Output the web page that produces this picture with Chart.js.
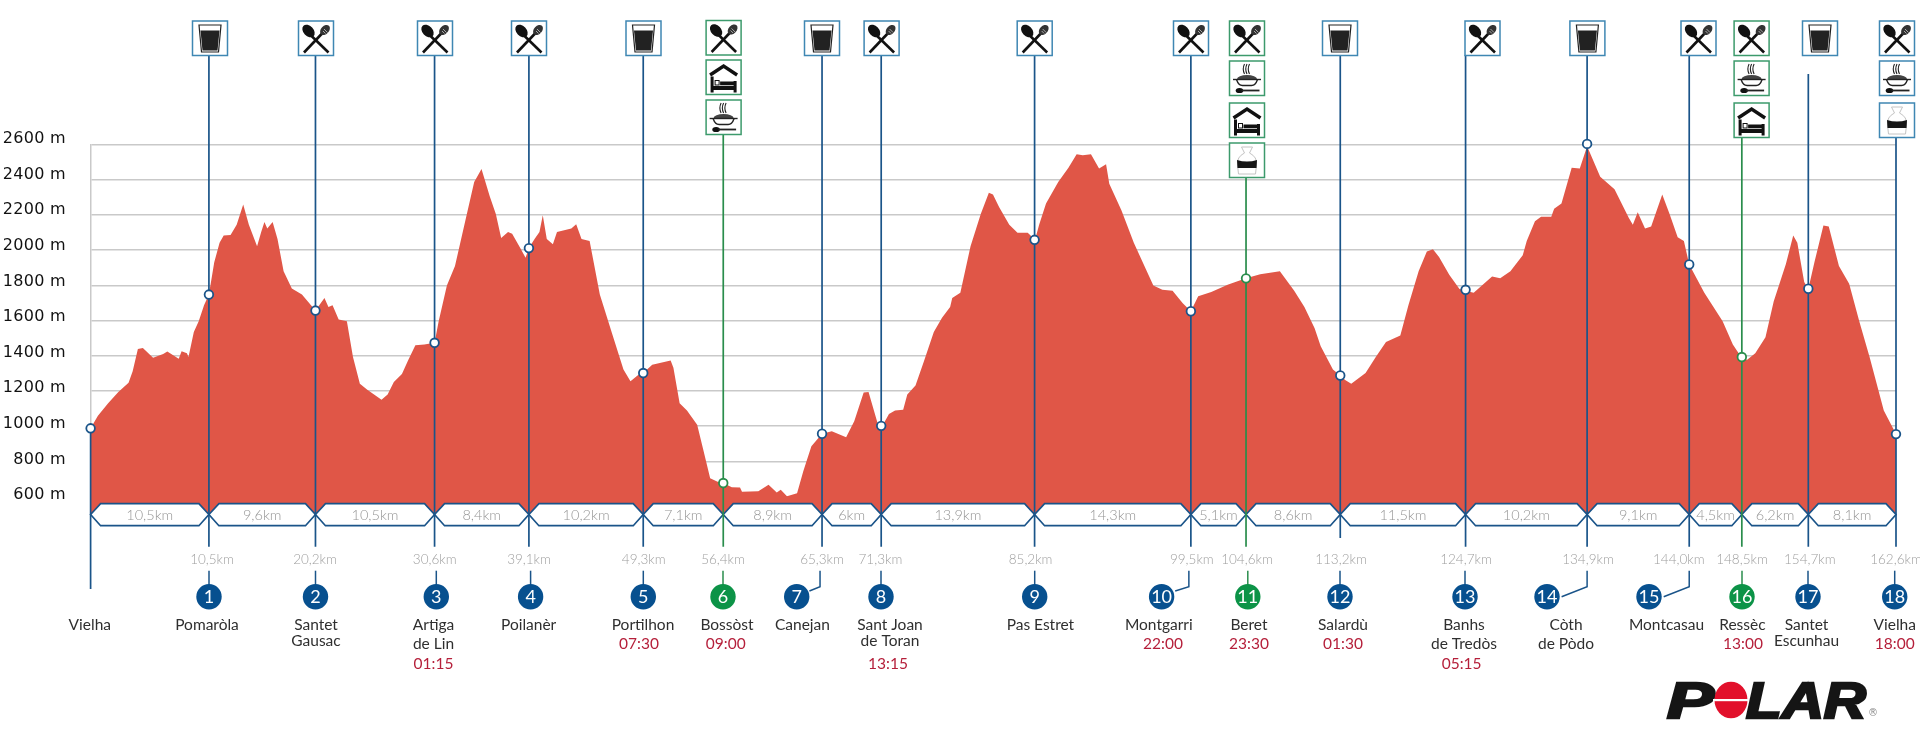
<!DOCTYPE html>
<html>
<head>
<meta charset="utf-8">
<title>Perfil</title>
<script src="https://cdn.jsdelivr.net/npm/chart.js@4"></script>
<style>
    html, body { margin: 0; padding: 0; background: #fff; }
    canvas { display: block; }
</style>
</head>
<body>
<canvas id="profileChart" width="1920" height="753"></canvas>
<script>
// Elevation profile (x = distance along the drawn axis)
const profileKm = [
    0, 0.66, 1.58, 2.5, 3.42, 3.79, 4.26, 4.71, 5.63, 6.54, 6.91, 7.94, 8.2, 8.68, 8.82, 9.3, 9.74, 10.22, 10.66,
    11.14, 11.62, 11.99, 12.61, 13.16, 13.75, 14.26, 15, 15.37, 15.66, 15.92, 16.4, 16.84, 17.39, 18.13, 19.04,
    20.26, 21.07, 21.43, 21.8, 22.35, 23.09, 23.64, 24.26, 24.93, 26.21, 26.76, 27.32, 28.05, 28.6, 29.26, 30.07,
    30.99, 31.36, 32.1, 32.83, 33.75, 34.56, 35.22, 35.96, 36.51, 36.99, 37.61, 37.98, 38.71, 39.19, 39.49, 40,
    40.44, 40.74, 41.1, 41.65, 42.02, 43.31, 43.75, 44.23, 44.96, 45.88, 46.99, 48.01, 48.64, 49.5, 49.79, 50.6,
    52.26, 52.51, 53.07, 53.73, 54.65, 55.2, 55.82, 56.49, 57, 57.77, 58.51, 58.69, 60.16, 61.08, 61.82, 62.18,
    62.74, 63.65, 64.21, 64.94, 65.9, 66.78, 68.07, 68.8, 69.65, 70.09, 70.9, 71.34, 71.93, 72.48, 73.21, 73.58,
    74.32, 75.05, 75.97, 76.71, 77.44, 77.63, 78.36, 79.28, 80.2, 80.93, 81.3, 81.85, 82.77, 83.51, 84.43, 85.09,
    85.46, 86.08, 87.18, 88.1, 88.84, 89.39, 90.13, 90.86, 91.49, 91.78, 92.88, 93.99, 95.09, 95.75, 96.56, 97.48,
    98.4, 99.13, 99.79, 100.97, 102.44, 104.1, 105.38, 107.15, 108.44, 109.36, 110.28, 110.83, 111.93, 112.59,
    113.03, 113.58, 114.87, 115.79, 116.71, 118, 118.73, 119.65, 120.39, 120.94, 121.49, 122.41, 123.33, 123.88,
    124.61, 125.35, 126.27, 127, 127.92, 129.03, 129.39, 130.13, 130.68, 131.6, 131.86, 132.52, 133.44, 134.17,
    134.83, 136.01, 137.3, 138.58, 138.95, 139.39, 140.05, 140.6, 141.6, 142.26, 142.99, 143.55, 144.03, 145.39,
    147.04, 147.96, 148.77, 149.25, 149.98, 150.9, 151.64, 152.74, 153.4, 153.77, 154.39, 154.76, 155.31, 156.12,
    156.6, 157.52, 158.44, 159.35, 160.28, 161.56, 162.66
];
const profileElev = [
    988, 1059, 1130, 1195, 1247, 1312, 1438, 1444, 1389, 1410, 1424, 1383, 1426, 1414, 1393, 1535, 1596, 1687, 1748,
    1931, 2042, 2083, 2087, 2144, 2259, 2144, 2022, 2103, 2160, 2123, 2160, 2063, 1880, 1783, 1748,
    1657, 1728, 1677, 1687, 1606, 1596, 1393, 1241, 1207, 1150, 1180, 1251, 1296, 1373, 1460, 1464,
    1474, 1596, 1799, 1910, 2164, 2387, 2462, 2306, 2205, 2069, 2103, 2093, 2012, 1957, 2012, 2063,
    2103, 2198, 2063, 2034, 2103, 2123, 2148, 2063, 2052, 1748, 1525, 1322, 1255, 1300, 1302, 1349,
    1373, 1332, 1130, 1089, 1008, 866, 704, 684, 677, 653, 651, 627, 631, 667, 623, 639,
    602, 619, 744, 886, 957, 972, 937, 1028, 1191, 1195, 1018, 1002, 1069, 1089, 1093, 1180,
    1231, 1363, 1535, 1616, 1677, 1728, 1758, 2022, 2205, 2326, 2316, 2245, 2144, 2099, 2099, 2059,
    2144, 2265, 2387, 2468, 2545, 2539, 2545, 2464, 2488, 2377, 2225, 2042, 1890, 1799, 1775, 1769,
    1698, 1653, 1738, 1762, 1803, 1840, 1864, 1880, 1769, 1677, 1556, 1454, 1322, 1288,
    1262, 1241, 1302, 1393, 1479, 1515, 1687, 1880, 1992, 2006, 1961, 1860, 1779, 1769,
    1758, 1799, 1850, 1840, 1880, 1971, 2052, 2164, 2190, 2190, 2235, 2265, 2468, 2464,
    2590, 2417, 2346, 2184, 2144, 2215, 2123, 2134, 2316, 2205, 2073, 2052, 1919, 1758,
    1596, 1464, 1387, 1377, 1414, 1505, 1708, 1921, 2083, 2042, 1819, 1779, 1931, 2140,
    2134, 1910, 1809, 1596, 1393, 1089, 955
];

// Altitude axis
const altitudeTicks = [600, 800, 1000, 1200, 1400, 1600, 1800, 2000, 2200, 2400, 2600];

// Stations on the route: index 0 is the start in Vielha, 1..18 are the numbered stops
const stationX = [0, 10.66, 20.26, 30.99, 39.49, 49.79, 57, 65.9, 71.23, 85.05, 99.13, 104.1, 112.59, 123.88, 134.83, 144.03, 148.77, 154.76, 162.66];
const stationElev = [988, 1748, 1657, 1474, 2012, 1302, 677, 957, 1002, 2059, 1653, 1840, 1288, 1775, 2604, 1919, 1393, 1781, 955];
const stationKm = ['', '10,5km', '20,2km', '30,6km', '39,1km', '49,3km', '56,4km', '65,3km', '71,3km', '85,2km', '99,5km', '104,6km', '113,2km', '124,7km', '134,9km', '144,0km', '148,5km', '154,7km', '162,6km'];
const stageKm = ['10,5km', '9,6km', '10,5km', '8,4km', '10,2km', '7,1km', '8,9km', '6km', '13,9km', '14,3km', '5,1km', '8,6km', '11,5km', '10,2km', '9,1km', '4,5km', '6,2km', '8,1km'];
const stationNames = [
    ['Vielha'], ['Pomaròla'], ['Santet', 'Gausac'], ['Artiga', 'de Lin'], ['Poilanèr'], ['Portilhon'], ['Bossòst'],
    ['Canejan'], ['Sant Joan', 'de Toran'], ['Pas Estret'], ['Montgarri'], ['Beret'], ['Salardù'], ['Banhs', 'de Tredòs'],
    ['Còth', 'de Pòdo'], ['Montcasau'], ['Ressèc'], ['Santet', 'Escunhau'], ['Vielha']
];
const stationTimes = ['', '', '', '01:15', '', '07:30', '09:00', '', '13:15', '', '22:00', '23:30', '01:30', '05:15', '', '', '13:00', '', '18:00'];
const stationIcons = [
    [], ['glass'], ['fork'], ['fork'], ['fork'], ['glass'], ['fork', 'bed', 'dish'], ['glass'], ['fork'], ['fork'], ['fork'],
    ['fork', 'dish', 'bed', 'bag'], ['glass'], ['fork'], ['glass'], ['fork'], ['fork', 'dish', 'bed'], ['glass'], ['fork', 'dish', 'bag']
];
const greenStops = [6, 11, 16];

// Layout of the annotations around the plot (pixels)
const iconCenters = [0, 210, 316, 435, 529, 643.5, 723.6, 822, 881.6, 1034.7, 1191, 1247, 1340, 1482.5, 1587.4, 1698.5, 1751.6, 1820, 1897];
const circleCenters = [0, 209, 315.5, 436.3, 530.6, 643.3, 723, 796.7, 881, 1034.7, 1161.6, 1247.8, 1340, 1465, 1547, 1649, 1742, 1808, 1894.7];
const kmLabelCenters = [0, 212, 315, 434.7, 529, 643.7, 723, 822, 880.4, 1030.6, 1191.8, 1247, 1341, 1466, 1588, 1678.8, 1742, 1809.8, 1896];
const nameCenters = [89.8, 207, 316, 433.5, 528.6, 643, 727, 802.4, 890, 1040.4, 1158.8, 1249, 1343, 1464, 1566, 1666.5, 1742.4, 1806.5, 1894.7];
const timeCenters = [0, 0, 0, 433.5, 0, 639, 725.7, 0, 888, 0, 1163, 1249, 1343, 1461.6, 0, 0, 1743, 0, 1894.7];
const tightSecondLine = [2, 8, 17];
const bentStems = { 7: 809.4, 10: 1175.2, 14: 1561.6, 15: 1663.7 };

const BLUE = '#1a5489';
const GREEN = '#2a8d4c';
const BOX_BLUE = '#3f87b3';
const BOX_GREEN = '#3c9a6c';
const BADGE_BLUE = '#07508f';
const BADGE_GREEN = '#0c9347';
const RED_TEXT = '#b51f3a';
const NAME_FONT = '15.5px Lato';

function isGreen(i) {
    return greenStops.includes(i);
}

function text(ctx, str, x, y, font, color, align) {
    ctx.font = font;
    ctx.fillStyle = color;
    ctx.textAlign = align || 'center';
    ctx.textBaseline = 'middle';
    ctx.fillText(str, x, y);
}

// White hexagons holding the stage distances
function drawStages(ctx, xPx) {
    const top = 503.6, mid = 514.5, bottom = 525.7, cut = 10;
    for (let i = 0; i < stageKm.length; i++) {
        const a = xPx(stationX[i]), b = xPx(stationX[i + 1]);
        ctx.beginPath();
        ctx.moveTo(a, mid);
        ctx.lineTo(a + cut, top);
        ctx.lineTo(b - cut, top);
        ctx.lineTo(b, mid);
        ctx.lineTo(b - cut, bottom);
        ctx.lineTo(a + cut, bottom);
        ctx.closePath();
        ctx.fillStyle = '#fff';
        ctx.fill();
        ctx.strokeStyle = BLUE;
        ctx.lineWidth = 1.7;
        ctx.stroke();
        text(ctx, stageKm[i], (a + b) / 2, 515.5, '300 14.5px Lato', '#969696');
    }
}

function iconTops(i) {
    return i === 6 ? [20.5, 60, 100] : [21, 61, 103, 143];
}

// Vertical leader of each station, from its icons down to the km label
function drawLeaders(ctx, xPx, yPx) {
    stationX.forEach((value, i) => {
        const x = xPx(value);
        let start = 55;
        let end = 546.7;
        if (i === 0) { start = yPx(stationElev[0]); end = 589; }
        else if (i === 17) start = 74;
        else if (i === 12) { end = 538; }
        else if (stationIcons[i].length > 1) {
            start = iconTops(i)[stationIcons[i].length - 1] + 35;
        }
        ctx.beginPath();
        ctx.moveTo(x, start);
        ctx.lineTo(x, end);
        ctx.strokeStyle = isGreen(i) ? GREEN : BLUE;
        ctx.lineWidth = 1.7;
        ctx.stroke();
    });
}

function drawFork(ctx) {
    ctx.strokeStyle = '#111';
    ctx.fillStyle = '#111';
    ctx.lineWidth = 2.6;
    ctx.beginPath(); ctx.moveTo(11, 13); ctx.lineTo(30, 31.5); ctx.stroke();
    ctx.beginPath(); ctx.moveTo(25, 11); ctx.lineTo(5.5, 31.5); ctx.stroke();
    ctx.beginPath(); ctx.ellipse(10, 10, 5, 7.3, -0.75, 0, Math.PI * 2); ctx.fill();
    ctx.fillStyle = '#333';
    ctx.beginPath(); ctx.ellipse(26.5, 9, 4, 5.8, 0.75, 0, Math.PI * 2); ctx.fill();
    ctx.strokeStyle = '#ddd';
    ctx.lineWidth = 0.7;
    ctx.beginPath(); ctx.moveTo(25.5, 8); ctx.lineTo(29, 11.5); ctx.moveTo(24.5, 10); ctx.lineTo(27, 12.5); ctx.stroke();
}

function drawGlass(ctx) {
    ctx.strokeStyle = '#222';
    ctx.lineWidth = 1.2;
    ctx.beginPath();
    ctx.moveTo(6.5, 4); ctx.lineTo(28.5, 4); ctx.lineTo(26, 31); ctx.lineTo(9, 31); ctx.closePath();
    ctx.stroke();
    ctx.fillStyle = '#222';
    ctx.beginPath();
    ctx.moveTo(8, 9.5); ctx.lineTo(27, 9.5); ctx.lineTo(25, 29.5); ctx.lineTo(10, 29.5); ctx.closePath();
    ctx.fill();
}

function drawBed(ctx) {
    ctx.strokeStyle = '#111';
    ctx.fillStyle = '#111';
    ctx.lineWidth = 3.4;
    ctx.beginPath(); ctx.moveTo(4, 15); ctx.lineTo(17.5, 6); ctx.lineTo(31, 15); ctx.stroke();
    ctx.fillRect(4.5, 16.5, 3, 16);
    ctx.fillRect(27.5, 21, 3, 11.5);
    ctx.fillRect(6, 26, 23, 4);
    ctx.fillRect(14, 21.5, 14, 3.8);
    ctx.lineWidth = 1;
    ctx.strokeRect(9, 20.5, 4, 4.5);
}

function drawDish(ctx) {
    ctx.strokeStyle = '#222';
    ctx.lineWidth = 1.1;
    [15, 17.5, 20].forEach(x => {
        ctx.beginPath();
        ctx.moveTo(x, 13);
        ctx.quadraticCurveTo(x - 2.5, 8, x, 3);
        ctx.stroke();
    });
    ctx.beginPath(); ctx.ellipse(17.5, 18, 10, 4, 0, Math.PI, 0); ctx.fillStyle = '#444'; ctx.fill();
    ctx.lineWidth = 1.4;
    ctx.beginPath(); ctx.moveTo(3.5, 18.5); ctx.lineTo(31.5, 18.5); ctx.stroke();
    ctx.beginPath(); ctx.moveTo(7, 18.5); ctx.quadraticCurveTo(9, 24.5, 13, 24.5); ctx.lineTo(22, 24.5); ctx.quadraticCurveTo(26, 24.5, 28, 18.5); ctx.stroke();
    ctx.fillStyle = '#111';
    ctx.beginPath(); ctx.ellipse(10, 29.5, 3.8, 2.6, 0, 0, Math.PI * 2); ctx.fill();
    ctx.lineWidth = 1.8;
    ctx.beginPath(); ctx.moveTo(12, 29.5); ctx.lineTo(30, 29.5); ctx.stroke();
}

function drawBag(ctx) {
    ctx.strokeStyle = '#c4c4c4';
    ctx.lineWidth = 1;
    ctx.beginPath();
    ctx.moveTo(12, 4); ctx.lineTo(23, 4); ctx.lineTo(20, 10);
    ctx.quadraticCurveTo(28, 14, 27, 22); ctx.lineTo(26, 31); ctx.lineTo(9, 31); ctx.lineTo(8, 22);
    ctx.quadraticCurveTo(7, 14, 15, 10); ctx.closePath();
    ctx.stroke();
    ctx.fillStyle = '#161616';
    ctx.beginPath();
    ctx.moveTo(7.5, 17); ctx.quadraticCurveTo(17.5, 20, 27.5, 17); ctx.lineTo(27, 25); ctx.lineTo(8, 25);
    ctx.closePath();
    ctx.fill();
}

const iconPainters = { fork: drawFork, glass: drawGlass, bed: drawBed, dish: drawDish, bag: drawBag };

function drawIcons(ctx) {
    stationIcons.forEach((icons, i) => {
        const tops = iconTops(i);
        icons.forEach((name, row) => {
            const left = iconCenters[i] - 17.5;
            ctx.save();
            ctx.translate(left, tops[row]);
            ctx.fillStyle = '#fff';
            ctx.fillRect(0, 0, 35, 34.5);
            ctx.strokeStyle = isGreen(i) ? BOX_GREEN : BOX_BLUE;
            ctx.lineWidth = 1.5;
            ctx.strokeRect(0, 0, 35, 34.5);
            iconPainters[name](ctx);
            ctx.restore();
        });
    });
}

// Km label, stem, numbered badge, place name and time under each station
function drawStationLabels(ctx, xPx) {
    stationX.forEach((value, i) => {
        const lines = stationNames[i];
        const tight = tightSecondLine.includes(i);
        text(ctx, lines[0], nameCenters[i], 625.3, NAME_FONT, '#2f2f2f');
        if (lines[1]) text(ctx, lines[1], nameCenters[i], tight ? 641.3 : 644, NAME_FONT, '#2f2f2f');
        if (stationTimes[i]) text(ctx, stationTimes[i], timeCenters[i], lines[1] ? 664.3 : 644, NAME_FONT, RED_TEXT);
        if (i === 0) return;

        text(ctx, stationKm[i], kmLabelCenters[i], 560, '300 13.5px Lato', '#9f9f9f');

        const cx = circleCenters[i];
        ctx.beginPath();
        if (bentStems[i] !== undefined) {
            const stemX = xPx(value) + (i === 7 || i === 10 ? -2 : 0);
            ctx.moveTo(stemX, 570.7);
            ctx.lineTo(stemX, 586.7);
            ctx.lineTo(bentStems[i], i === 14 || i === 15 ? 596.7 : 591);
        } else {
            ctx.moveTo(cx, 570.7);
            ctx.lineTo(cx, 590);
        }
        ctx.strokeStyle = isGreen(i) ? GREEN : BLUE;
        ctx.lineWidth = 1.5;
        ctx.stroke();

        ctx.beginPath();
        ctx.arc(cx, 596.7, 12.7, 0, Math.PI * 2);
        ctx.fillStyle = isGreen(i) ? BADGE_GREEN : BADGE_BLUE;
        ctx.fill();
        text(ctx, String(i), cx, 597, '18px Lato', '#fff');
    });
}

// Altitude labels sit a little above their grid lines, more so towards the top
function drawAltitudeLabels(ctx, yScale) {
    yScale.ticks.forEach(tick => {
        const lift = 1.6 + 4 * (tick.value - 600) / 2000;
        ctx.save();
        ctx.letterSpacing = '0.3px';
        text(ctx, tick.value + ' m', 66, yScale.getPixelForValue(tick.value) - lift, '16px "DejaVu Sans"', '#111', 'right');
        ctx.restore();
    });
}

function drawLogo(ctx) {
    const font = 'italic bold 50px "Liberation Sans"';
    const letter = (str, left, right) => {
        ctx.save();
        ctx.font = font;
        const w = ctx.measureText(str).width;
        ctx.translate(left, 718);
        ctx.scale((right - left) / w, 1);
        ctx.textAlign = 'left';
        ctx.textBaseline = 'alphabetic';
        ctx.fillStyle = '#151515';
        ctx.strokeStyle = '#151515';
        ctx.lineWidth = 2.5;
        ctx.strokeText(str, 0, 0);
        ctx.fillText(str, 0, 0);
        ctx.restore();
    };
    letter('P', 1667, 1714);
    letter('LAR', 1746, 1866);

    ctx.beginPath();
    ctx.ellipse(1731, 700, 16.5, 18.3, 0, 0, Math.PI * 2);
    ctx.fillStyle = '#e2102b';
    ctx.fill();
    ctx.fillStyle = '#fff';
    ctx.fillRect(1713, 699, 36, 2.2);
    text(ctx, '®', 1873, 713, '10px "DejaVu Sans"', '#8a8a8a');
}

const routeOverlay = {
    id: 'routeOverlay',
    afterDatasetDraw(chart, args) {
        // index 0 is the red area: stages and leaders go over it, under the markers
        if (args.index !== 0) return;
        const xPx = v => chart.scales.x.getPixelForValue(v);
        const yPx = v => chart.scales.y.getPixelForValue(v);
        drawStages(chart.ctx, xPx);
        drawLeaders(chart.ctx, xPx, yPx);
    },
    afterDraw(chart) {
        const ctx = chart.ctx;
        const xPx = v => chart.scales.x.getPixelForValue(v);
        drawIcons(ctx);
        drawStationLabels(ctx, xPx);
        drawAltitudeLabels(ctx, chart.scales.y);
        drawLogo(ctx);
    }
};

Promise.all([document.fonts.load('300 14px Lato'), document.fonts.load('15px Lato')]).finally(() => {
    new Chart(document.getElementById('profileChart'), {
        type: 'line',
        data: {
            datasets: [
                {
                    label: 'Altitude',
                    data: profileKm.map((km, i) => ({ x: km, y: profileElev[i] })),
                    order: 2,
                    borderWidth: 0,
                    pointRadius: 0,
                    tension: 0,
                    fill: 'start',
                    backgroundColor: '#e05647'
                },
                {
                    label: 'Stations',
                    data: stationX.map((km, i) => ({ x: km, y: stationElev[i] })),
                    order: 1,
                    showLine: false,
                    clip: false,
                    pointRadius: 4.3,
                    pointBorderWidth: 1.8,
                    pointBackgroundColor: '#fff',
                    pointBorderColor: stationX.map((km, i) => isGreen(i) ? GREEN : BLUE)
                }
            ]
        },
        options: {
            responsive: false,
            animation: false,
            devicePixelRatio: 1,
            layout: { padding: { left: 90.6, right: 24, top: 144.6, bottom: 238.8 } },
            plugins: { legend: { display: false }, tooltip: { enabled: false } },
            scales: {
                x: { type: 'linear', display: false, min: 0, max: 162.66 },
                y: {
                    min: 500,
                    max: 2600,
                    afterBuildTicks: axis => { axis.ticks = altitudeTicks.map(v => ({ value: v })); },
                    ticks: { display: false },
                    border: { display: true, color: '#c9c9c9', width: 1.5 },
                    grid: { color: '#c9c9c9', lineWidth: 1.5, drawTicks: false }
                }
            }
        },
        plugins: [routeOverlay]
    });
});
</script>
</body>
</html>
